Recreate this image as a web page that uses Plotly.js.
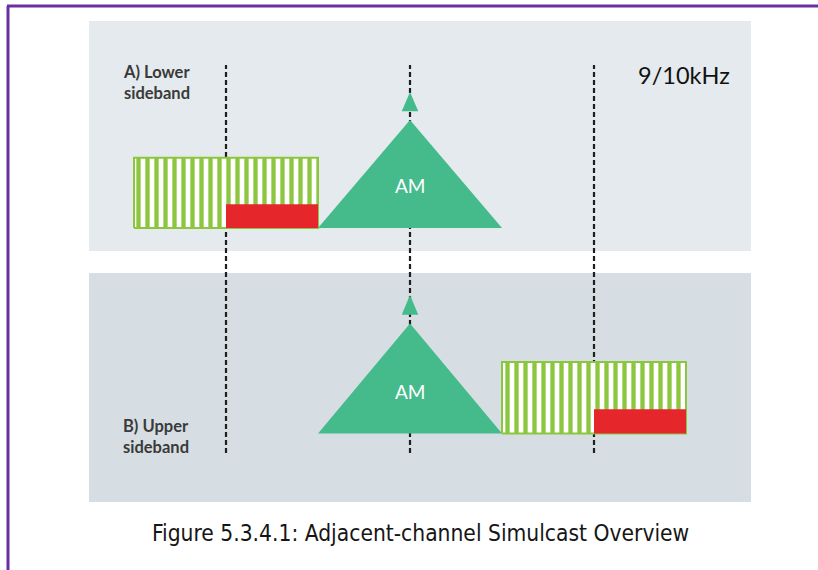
<!DOCTYPE html>
<html>
<head>
<meta charset="utf-8">
<script src="https://cdn.plot.ly/plotly-3.0.1.min.js"></script>
<style>
html,body{margin:0;padding:0;background:#fff;}
#chart{width:818px;height:570px;}
</style>
</head>
<body>
<div id="chart"></div>
<script>
// ---- data (frequency offsets in kHz, relative level in %) ----
const channelLines = [-10, 0, 10];          // channel raster, dashed lines
const amBand = [-5, 5];                      // analogue AM occupied band
const amPeak = 100;                          // AM triangle top
const carrierSpan = [-0.45, 0.45];           // carrier marker width
const carrierLevels = [108, 126];            // carrier marker base / tip
const lowerDigital = [-15, -5];              // panel A digital block
const lowerCore = [-10, -5];                 // panel A core (red)
const upperDigital = [5, 15];                // panel B digital block
const upperCore = [10, 15];                  // panel B core (red)
const digitalLevel = 65;
const coreLevel = 22;
const panelLabels = ["A) Lower<br>sideband", "B) Upper<br>sideband"];
const amLabel = "AM";
const rasterLabel = "9/10kHz";
const caption = "Figure 5.3.4.1: Adjacent-channel Simulcast Overview";

const GREEN = '#8cc63f', RED = '#e5262a', TEAL = '#45bb8c';

function rect(xs, top, yaxis, style) {
  return Object.assign({
    type: 'scatter', mode: 'lines', yaxis: yaxis, xaxis: 'x',
    x: [xs[0], xs[1], xs[1], xs[0], xs[0]],
    y: [0, 0, top, top, 0], fill: 'toself', hoverinfo: 'skip'
  }, style);
}
function amTriangle(yaxis) {
  return { type: 'scatter', mode: 'lines', yaxis: yaxis, xaxis: 'x',
    x: [amBand[0], amBand[1], (amBand[0] + amBand[1]) / 2, amBand[0]],
    y: [0, 0, amPeak, 0], fill: 'toself', fillcolor: TEAL,
    line: {color: TEAL, width: 0}, hoverinfo: 'skip' };
}
function carrier(yaxis) {
  return { type: 'scatter', mode: 'lines', yaxis: yaxis, xaxis: 'x',
    x: [carrierSpan[0], carrierSpan[1], (carrierSpan[0] + carrierSpan[1]) / 2, carrierSpan[0]],
    y: [carrierLevels[0], carrierLevels[0], carrierLevels[1], carrierLevels[0]],
    fill: 'toself', fillcolor: TEAL, line: {color: TEAL, width: 0}, hoverinfo: 'skip' };
}
const hatch = {fillcolor: '#ffffff', line: {color: GREEN, width: 2},
  fillpattern: {shape: '|', fgcolor: GREEN, bgcolor: '#ffffff', size: 9, solidity: 0.48}};
const solid = {fillcolor: RED, line: {color: RED, width: 0}};

const traces = [
  rect(lowerDigital, digitalLevel, 'y', hatch),
  rect(lowerCore, coreLevel, 'y', solid),
  amTriangle('y'), carrier('y'),
  amTriangle('y2'), carrier('y2'),
  rect(upperDigital, digitalLevel, 'y2', hatch),
  rect(upperCore, coreLevel, 'y2', solid)
];

const W = 818, H = 570;
const px = v => v / W, py = v => 1 - v / H;

const shapes = [
  {type: 'rect', xref: 'x domain', yref: 'y domain', x0: 0, x1: 1, y0: 0, y1: 1,
   fillcolor: '#e4eaed', line: {width: 0}, layer: 'below'},
  {type: 'rect', xref: 'x domain', yref: 'y2 domain', x0: 0, x1: 1, y0: 0, y1: 1,
   fillcolor: '#d6dee3', line: {width: 0}, layer: 'below'}
];
channelLines.forEach(c => shapes.push({
  type: 'line', xref: 'x', yref: 'paper', x0: c, x1: c, y0: py(453), y1: py(65),
  line: {color: '#1e1e1e', width: 2.2, dash: '5px,3px'}, layer: 'below'}));
// frame
shapes.push({type: 'line', xref: 'paper', yref: 'paper', x0: px(7), x1: 1, y0: py(6), y1: py(6),
  line: {color: '#6b2fa3', width: 3}});
shapes.push({type: 'line', xref: 'paper', yref: 'paper', x0: px(8), x1: px(8), y0: 0, y1: py(6),
  line: {color: '#6b2fa3', width: 3}});

const labelFont = {family: 'Lato, "Open Sans", sans-serif', size: 16.5, color: '#3a3a3a', weight: 'bold'};
const annotations = [
  {text: panelLabels[0], xref: 'x', yref: 'y', x: -15.7, y: 135, xanchor: 'left', yanchor: 'middle',
   align: 'left', showarrow: false, font: labelFont},
  {text: panelLabels[1], xref: 'x', yref: 'y2', x: -15.7, y: -3, xanchor: 'left', yanchor: 'middle',
   align: 'left', showarrow: false, font: labelFont},
  {text: rasterLabel, xref: 'x', yref: 'y', x: 12.3, y: 141.5, xanchor: 'left', yanchor: 'middle',
   showarrow: false, font: {family: 'Lato, sans-serif', size: 23.5, color: '#111111'}},
  {text: amLabel, xref: 'x', yref: 'y', x: 0, y: 39.5, showarrow: false,
   font: {family: 'Lato, sans-serif', size: 19, color: '#ffffff'}},
  {text: amLabel, xref: 'x', yref: 'y2', x: 0, y: 38, showarrow: false,
   font: {family: 'Lato, sans-serif', size: 19, color: '#ffffff'}},
  {text: caption, xref: 'paper', yref: 'paper', x: px(420.5), y: py(533), xanchor: 'center', yanchor: 'middle',
   showarrow: false, font: {family: '"Liberation Sans Narrow", "DejaVu Sans Condensed", sans-serif', size: 22.6, color: '#161616'}}
];

const hidden = {visible: false, showgrid: false, zeroline: false, fixedrange: true};
const layout = {
  width: W, height: H, margin: {l: 0, r: 0, t: 0, b: 0},
  paper_bgcolor: '#ffffff', plot_bgcolor: 'rgba(0,0,0,0)', showlegend: false, hovermode: false,
  xaxis: Object.assign({domain: [px(89), px(751)], range: [(89 - 410) / 18.4, (751 - 410) / 18.4]}, hidden),
  yaxis: Object.assign({domain: [py(251), py(21)], range: [(228 - 251) / 1.08, (228 - 21) / 1.08]}, hidden),
  yaxis2: Object.assign({domain: [py(502), py(273)], range: [(433.5 - 502) / 1.1, (433.5 - 273) / 1.1]}, hidden),
  shapes: shapes, annotations: annotations
};
Plotly.newPlot('chart', traces, layout, {staticPlot: true, displayModeBar: false});
</script>
</body>
</html>
